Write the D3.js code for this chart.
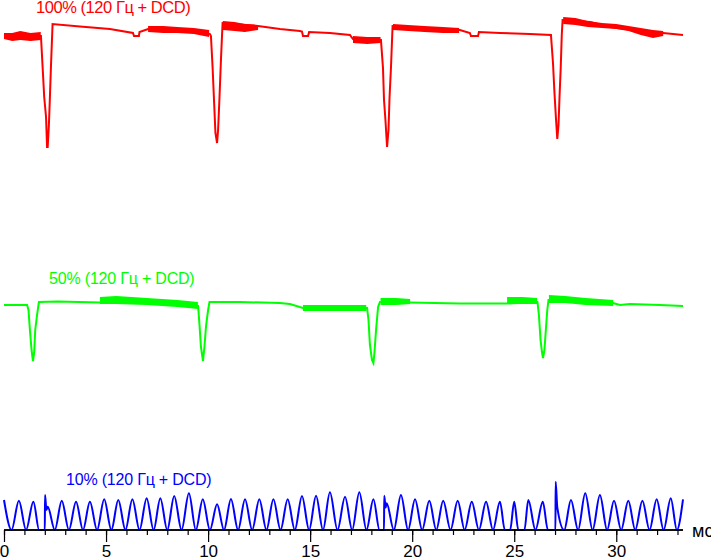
<!DOCTYPE html>
<html><head><meta charset="utf-8">
<script src="https://cdn.jsdelivr.net/npm/d3@7"></script>
<style>body{margin:0;background:#fff}svg{display:block}text{font-family:"Liberation Sans",Arial,sans-serif}</style>
</head><body>
<script>
// ---- data (time in ms, signal in arbitrary units) ----
const xTicksMajor = [0, 5, 10, 15, 20, 25, 30];
const xTicksMinor = d3.range(0, 34, 1);
const xUnit = "мс";
const labels = ["100% (120 Гц + DCD)", "50% (120 Гц + DCD)", "10% (120 Гц + DCD)"];

const red100 = [[0,98.8],[1.81,98.8],[1.90,92],[1.97,86.6],[2.06,82.6],[2.11,76.6],[2.14,76.6],[2.20,81],[2.25,86.6],[2.30,92.6],[2.38,101.2],[3.72,100.7],[5.19,100.2],[6.32,99.4],[6.37,98.8],[6.61,98.8],[6.64,99.6],[7.06,100.2],[8.13,100.2],[9.60,99.8],[10.09,99.2],[10.14,98.8],[10.22,92.6],[10.29,86],[10.36,79.4],[10.44,77.4],[10.49,80],[10.56,86.6],[10.63,94],[10.71,101.4],[12.45,100.8],[13.52,100.2],[14.50,99.8],[14.60,99.7],[14.65,98.8],[14.90,98.8],[14.95,99.6],[15.97,99.4],[16.95,99],[17.10,98.2],[18.47,98],[18.57,92.4],[18.62,86],[18.69,82],[18.77,76.6],[18.84,80],[18.89,86.4],[18.96,92.4],[19.04,100.8],[20.38,100.4],[22.34,100],[22.83,99.4],[22.88,98.8],[23.23,98.8],[23.27,99.6],[24.30,99.4],[25.77,99.2],[26.80,99],[26.90,93.4],[26.97,87.6],[27.05,82],[27.11,78.2],[27.17,81],[27.22,86.6],[27.28,92.6],[27.33,99],[27.37,102],[28.71,101.6],[29.69,100.6],[31.16,99.8],[32.29,99.4],[33.27,99]];
const red100Noise = [
  [[0,98.2,99.4],[0.4,97.8,99.4],[0.8,98.0,99.8],[1.3,97.8,99.4],[1.8,98.0,99.6]],
  [[7.06,99.6,100.8],[7.8,99.4,100.8],[8.5,99.4,100.6],[9.3,99.2,100.4],[10.05,98.6,100.0]],
  [[10.72,100.0,101.8],[11.3,99.8,101.6],[11.8,99.6,101.2],[12.45,100.0,101.0]],
  [[17.1,97.4,98.8],[17.8,97.2,98.6],[18.45,97.4,98.6]],
  [[19.06,100.0,101.2],[19.8,99.8,101.0],[20.6,99.6,100.8],[21.5,99.4,100.6],[22.3,99.4,100.4]],
  [[27.4,101.2,102.6],[28.0,101.0,102.4],[28.6,100.6,101.8],[29.3,100.4,101.4],[30.0,100.2,101.2],[30.6,99.8,100.8],[31.2,99.0,100.4],[31.8,98.4,100.0],[32.3,98.8,99.8]]
];

const green50 = [[0,45],[1.13,45],[1.20,44],[1.27,40],[1.35,36],[1.42,33.8],[1.48,35.6],[1.53,40],[1.62,43],[1.71,45.6],[2.65,45.7],[4.70,45.5],[5.19,46],[7.15,45.6],[9.11,45],[9.51,44.8],[9.58,41],[9.65,36.6],[9.75,33.8],[9.82,36.6],[9.90,40.8],[10.0,44],[10.07,45.6],[11.56,45.6],[13.52,45.4],[14.01,45.2],[14.65,44.4],[17.79,44.4],[17.86,42],[17.93,37],[18.03,34],[18.10,33.4],[18.15,35.4],[18.23,40],[18.33,44.6],[18.42,45.6],[19.89,45.5],[22.34,45.3],[24.65,45.3],[26.14,45.6],[26.21,43],[26.29,38],[26.36,35.6],[26.41,34.4],[26.48,36],[26.56,40.6],[26.62,44],[26.68,46],[28.22,46],[29.84,45.4],[30.18,45],[30.67,45.2],[32.14,45],[33.27,44.8]];
const green50Noise = [
  [[4.70,45.2,46.6],[5.5,45.2,46.8],[7.0,45.0,46.4],[8.5,44.6,46.0],[9.5,44.2,45.6]],
  [[14.65,43.8,45.0],[16.0,43.8,45.0],[17.75,43.8,45.0]],
  [[18.45,45.0,46.4],[19.2,45.0,46.4],[19.9,45.2,46.2]],
  [[24.65,45.2,46.6],[25.4,45.2,46.6],[26.12,45.2,46.4]],
  [[26.7,45.4,47.0],[27.5,45.4,46.8],[28.5,45.0,46.4],[29.85,44.8,46.0]]
];

const blue10 = [[0,6.0],[0.37,0],[0.73,5.86],[1.08,0],[1.44,5.66],[1.72,0],[2.0,0],[2.01,7.0],[2.08,4.0],[2.14,4.66],[2.49,0],[2.83,5.86],[3.18,0],[3.53,5.66],[3.87,0],[4.21,5.66],[4.56,0],[4.91,6.14],[5.26,0],[5.60,6.0],[5.95,0],[6.29,6.14],[6.64,0],[6.99,6.34],[7.33,0],[7.66,6.34],[8.0,0],[8.34,6.8],[8.70,0],[9.06,7.34],[9.40,0],[9.74,6.14],[10.09,0],[10.44,5.14],[10.78,0],[11.12,6.2],[11.47,0],[11.81,6.14],[12.16,0],[12.51,6.14],[12.86,0],[13.20,6.14],[13.55,0],[13.90,6.14],[14.25,0],[14.60,6.8],[14.95,0],[15.29,6.86],[15.63,0],[15.97,7.54],[16.34,0],[16.71,6.66],[17.06,0],[17.41,7.54],[17.76,0],[18.10,6.14],[18.40,0],[18.62,0],[18.63,6.86],[18.70,4.5],[18.75,5.34],[19.10,0],[19.45,7.0],[19.80,0],[20.14,6.14],[20.49,0],[20.84,5.86],[21.18,0],[21.52,5.86],[21.88,0],[22.23,5.86],[22.57,0],[22.92,5.66],[23.27,0],[23.62,5.66],[23.96,0],[24.30,5.66],[24.54,0],[24.80,0],[25.00,5.66],[25.20,0],[25.50,0],[25.69,6.0],[26.04,0],[26.40,5.66],[26.65,0],[27.02,0],[27.03,9.66],[27.11,4.54],[27.45,0],[27.78,6.0],[28.13,0],[28.48,7.34],[28.84,0],[29.20,7.0],[29.55,0],[29.89,5.86],[30.24,0],[30.59,5.86],[30.93,0],[31.28,5.86],[31.63,0],[31.98,6.14],[32.32,0],[32.67,6.34],[32.97,0],[33.27,6.14]];

// label anchors: [time at left edge, signal level of baseline]
const labelPos = [[1.57, 103.5], [2.21, 49.2], [3.04, 9.0]];
const colors = ["#ff0000", "#00ff00", "#0000ff"];

// ---- drawing ----
const W = 711, H = 558;
const svg = d3.select("body").append("svg").attr("width", W).attr("height", H);
svg.append("rect").attr("width", W).attr("height", H).attr("fill", "#fff");

const x = d3.scaleLinear().domain([0, 33.27]).range([4, 683]);
const y = d3.scaleLinear().domain([0, 106]).range([530, 0]);

const line = d3.line().x(d => x(d[0])).y(d => y(d[1]));
const smooth = d3.line().x(d => x(d[0])).y(d => y(d[1])).curve(d3.curveMonotoneX);
const area = d3.area().x(d => x(d[0])).y0(d => y(d[1])).y1(d => y(d[2]));

// noise bands
red100Noise.forEach(b => svg.append("path").attr("d", area(b)).attr("fill", colors[0]));
green50Noise.forEach(b => svg.append("path").attr("d", area(b)).attr("fill", colors[1]));

svg.append("path").attr("d", line(red100)).attr("fill", "none").attr("stroke", colors[0]).attr("stroke-width", 2);
svg.append("path").attr("d", line(green50)).attr("fill", "none").attr("stroke", colors[1]).attr("stroke-width", 2);
svg.append("path").attr("d", smooth(blue10)).attr("fill", "none").attr("stroke", colors[2]).attr("stroke-width", 2);

// labels
const fs = [16.5, 16, 16];
const ls = ["-0.45px", "-0.2px", "-0.2px"];
labels.forEach((t, i) => {
  svg.append("text").attr("x", x(labelPos[i][0])).attr("y", y(labelPos[i][1]))
    .attr("fill", colors[i]).attr("font-size", fs[i]).attr("letter-spacing", ls[i]).text(t);
});

// axis
const gMinor = svg.append("g").attr("transform", `translate(0,${y(0)})`)
  .call(d3.axisBottom(x).tickValues(xTicksMinor).tickSize(5).tickFormat(""));
const gMajor = svg.append("g").attr("transform", `translate(0,${y(0)})`)
  .call(d3.axisBottom(x).tickValues(xTicksMajor).tickSize(12).tickPadding(3).tickFormat(d3.format("d")));
[gMinor, gMajor].forEach(g => {
  g.select(".domain").attr("stroke", "#000").attr("stroke-width", 1.5).attr("d", `M${x(0)},0H${x(33.27)}`);
  g.selectAll(".tick line").attr("stroke", "#000").attr("stroke-width", 1.2);
});
gMajor.selectAll(".tick text").attr("fill", "#000").attr("font-size", 17)
  .attr("font-family", "Liberation Sans, Arial, sans-serif");
svg.append("text").attr("x", x(33.27) + 9).attr("y", y(0) + 7).attr("font-size", 18).attr("fill", "#000").text(xUnit);
</script>
</body></html>
